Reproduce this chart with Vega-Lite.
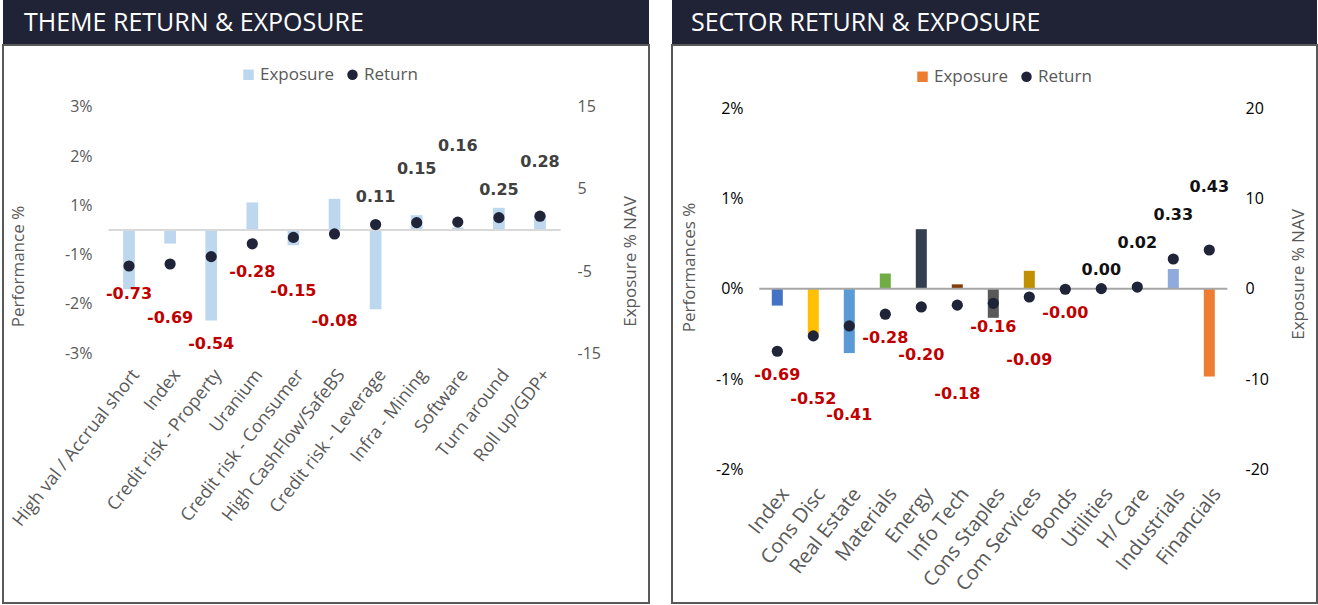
{
  "$schema": "https://vega.github.io/schema/vega-lite/v6.json",
  "padding": {"left": 2, "top": 0, "right": 0, "bottom": 0},
  "background": "white",
  "spacing": 21,
  "config": {
    "view": {"stroke": null},
    "axis": {"labelFont": "Open Sans", "titleFont": "Open Sans", "titleFontWeight": "normal", "grid": false, "domain": false, "ticks": false, "tickSize": 0},
    "legend": {"labelFont": "Open Sans", "labelFontSize": 17, "labelColor": "#595959", "padding": 0, "symbolStrokeWidth": 0, "symbolSize": 110, "labelOffset": 3, "columnPadding": 10}
  },
  "hconcat": [
    {
      "bounds": "flush",
      "spacing": 1,
      "vconcat": [
        {
          "width": 646, "height": 44,
          "data": {"values": [{}]},
          "mark": {"type": "rect", "color": "#1F2335"},
          "encoding": {},
          "title": {"text": "THEME RETURN & EXPOSURE", "anchor": "start", "frame": "group", "offset": -56, "dx": 21, "baseline": "alphabetic", "color": "#FFFFFF", "fontSize": 25, "font": "Open Sans", "fontWeight": "normal"}
        },
        {
          "width": 646, "height": 558,
          "view": {"stroke": "#595959", "strokeWidth": 2},
          "data": {"values": [
            {"theme": "High val / Accrual short", "exposure": -7.2, "ret": -0.73, "label": "-0.73"},
            {"theme": "Index", "exposure": -1.65, "ret": -0.69, "label": "-0.69"},
            {"theme": "Credit risk - Property", "exposure": -11.0, "ret": -0.54, "label": "-0.54"},
            {"theme": "Uranium", "exposure": 3.35, "ret": -0.28, "label": "-0.28"},
            {"theme": "Credit risk - Consumer", "exposure": -1.85, "ret": -0.15, "label": "-0.15"},
            {"theme": "High CashFlow/SafeBS", "exposure": 3.8, "ret": -0.08, "label": "-0.08"},
            {"theme": "Credit risk - Leverage", "exposure": -9.65, "ret": 0.11, "label": "0.11"},
            {"theme": "Infra - Mining", "exposure": 1.8, "ret": 0.15, "label": "0.15"},
            {"theme": "Software", "exposure": 0.3, "ret": 0.16, "label": "0.16"},
            {"theme": "Turn around", "exposure": 2.7, "ret": 0.25, "label": "0.25"},
            {"theme": "Roll up/GDP+", "exposure": 1.9, "ret": 0.28, "label": "0.28"}
          ]},
          "resolve": {"scale": {"y": "independent", "color": "independent", "shape": "independent"}},
          "layer": [
            {
              "mark": {"type": "bar"},
              "encoding": {
                "x": {"field": "theme", "type": "nominal", "sort": null,
                  "scale": {"range": [105.45, 557.55], "paddingInner": 0.715, "paddingOuter": 0.3575},
                  "axis": {"orient": "bottom", "offset": -241, "labelPadding": 4, "labelAngle": -52, "labelAlign": "right", "labelBaseline": "top", "labelFontSize": 18, "labelColor": "#595959", "labelLimit": 400, "title": null}},
                "y": {"field": "exposure", "type": "quantitative",
                  "scale": {"domain": [-45.38, 22.51], "nice": false, "zero": false},
                  "axis": {"orient": "right", "offset": -74, "values": [15, 5, -5, -15], "labelExpr": "'' + datum.value", "labelPadding": 2, "labelFontSize": 16, "labelColor": "#595959", "title": "Exposure % NAV", "titleAngle": 270, "titleX": 55, "titleY": 216, "titleAlign": "center", "titleBaseline": "middle", "titleFontSize": 17, "titleColor": "#595959"}},
                "color": {"datum": "Exposure", "scale": {"domain": ["Exposure"], "range": ["#BDD7EE"]}, "legend": null}
              }
            },
            {
              "layer": [
                {
                  "data": {"values": [{}]},
                  "mark": {"type": "rule", "color": "#D9D9D9", "strokeWidth": 2},
                  "encoding": {
                    "x": {"datum": "High val / Accrual short", "bandPosition": -1.255},
                    "x2": {"datum": "Roll up/GDP+", "bandPosition": 2.255},
                    "y": {"datum": 0}
                  }
                },
                {
                  "mark": {"type": "point", "filled": true, "size": 125, "opacity": 1},
                  "encoding": {
                    "x": {"field": "theme", "type": "nominal", "sort": null},
                    "y": {"field": "ret", "type": "quantitative",
                      "scale": {"domain": [-7.563, 3.751], "nice": false, "zero": false},
                      "axis": {"orient": "left", "offset": -93, "values": [2.5, 1.5, 0.5, -0.5, -1.5, -2.5], "labelExpr": "(datum.value < 0 ? '-' : '') + ceil(abs(datum.value)) + '%'", "labelPadding": 4, "labelFontSize": 16, "labelColor": "#595959", "title": "Performance %", "titleAngle": 270, "titleX": -78, "titleY": 221, "titleAlign": "center", "titleBaseline": "middle", "titleFontSize": 17, "titleColor": "#595959"}},
                    "color": {"datum": "Return", "scale": {"domain": ["Exposure", "Return"], "range": ["#BDD7EE", "#1F2438"]},
                      "legend": {"orient": "none", "legendX": 237, "legendY": 21, "direction": "horizontal", "title": null}},
                    "shape": {"datum": "Return", "scale": {"domain": ["Exposure", "Return"], "range": ["square", "circle"]},
                      "legend": {"orient": "none", "legendX": 237, "legendY": 21, "direction": "horizontal", "title": null}}
                  }
                },
                {
                  "transform": [{"filter": {"field": "theme", "oneOf": ["High val / Accrual short", "Uranium"]}}],
                  "mark": {"type": "text", "dy": 28, "color": "#C00000", "font": "DejaVu Sans", "fontWeight": "bold", "fontSize": 16},
                  "encoding": {"x": {"field": "theme", "type": "nominal", "sort": null}, "y": {"field": "ret", "type": "quantitative"}, "text": {"field": "label"}}
                },
                {
                  "transform": [{"filter": {"field": "theme", "oneOf": ["Index", "Credit risk - Consumer"]}}],
                  "mark": {"type": "text", "dy": 54, "color": "#C00000", "font": "DejaVu Sans", "fontWeight": "bold", "fontSize": 16},
                  "encoding": {"x": {"field": "theme", "type": "nominal", "sort": null}, "y": {"field": "ret", "type": "quantitative"}, "text": {"field": "label"}}
                },
                {
                  "transform": [{"filter": {"field": "theme", "oneOf": ["Credit risk - Property", "High CashFlow/SafeBS"]}}],
                  "mark": {"type": "text", "dy": 87, "color": "#C00000", "font": "DejaVu Sans", "fontWeight": "bold", "fontSize": 16},
                  "encoding": {"x": {"field": "theme", "type": "nominal", "sort": null}, "y": {"field": "ret", "type": "quantitative"}, "text": {"field": "label"}}
                },
                {
                  "transform": [{"filter": {"field": "theme", "oneOf": ["Credit risk - Leverage", "Turn around"]}}],
                  "mark": {"type": "text", "dy": -28, "color": "#404040", "font": "DejaVu Sans", "fontWeight": "bold", "fontSize": 16},
                  "encoding": {"x": {"field": "theme", "type": "nominal", "sort": null}, "y": {"field": "ret", "type": "quantitative"}, "text": {"field": "label"}}
                },
                {
                  "transform": [{"filter": {"field": "theme", "oneOf": ["Infra - Mining", "Roll up/GDP+"]}}],
                  "mark": {"type": "text", "dy": -54, "color": "#404040", "font": "DejaVu Sans", "fontWeight": "bold", "fontSize": 16},
                  "encoding": {"x": {"field": "theme", "type": "nominal", "sort": null}, "y": {"field": "ret", "type": "quantitative"}, "text": {"field": "label"}}
                },
                {
                  "transform": [{"filter": {"field": "theme", "oneOf": ["Software"]}}],
                  "mark": {"type": "text", "dy": -76, "color": "#404040", "font": "DejaVu Sans", "fontWeight": "bold", "fontSize": 16},
                  "encoding": {"x": {"field": "theme", "type": "nominal", "sort": null}, "y": {"field": "ret", "type": "quantitative"}, "text": {"field": "label"}}
                }
              ]
            }
          ]
        }
      ]
    },
    {
      "bounds": "flush",
      "spacing": 1,
      "vconcat": [
        {
          "width": 645, "height": 44,
          "data": {"values": [{}]},
          "mark": {"type": "rect", "color": "#1F2335"},
          "encoding": {},
          "title": {"text": "SECTOR RETURN & EXPOSURE", "anchor": "start", "frame": "group", "offset": -56, "dx": 19, "baseline": "alphabetic", "color": "#FFFFFF", "fontSize": 25, "font": "Open Sans", "fontWeight": "normal"}
        },
        {
          "width": 645, "height": 558,
          "view": {"stroke": "#595959", "strokeWidth": 2},
          "data": {"values": [
            {"sector": "Index", "exposure": -1.85, "ret": -0.69, "label": "-0.69"},
            {"sector": "Cons Disc", "exposure": -5.0, "ret": -0.52, "label": "-0.52"},
            {"sector": "Real Estate", "exposure": -7.1, "ret": -0.41, "label": "-0.41"},
            {"sector": "Materials", "exposure": 1.7, "ret": -0.28, "label": "-0.28"},
            {"sector": "Energy", "exposure": 6.6, "ret": -0.20, "label": "-0.20"},
            {"sector": "Info Tech", "exposure": 0.5, "ret": -0.18, "label": "-0.18"},
            {"sector": "Cons Staples", "exposure": -3.2, "ret": -0.16, "label": "-0.16"},
            {"sector": "Com Services", "exposure": 2.0, "ret": -0.09, "label": "-0.09"},
            {"sector": "Bonds", "exposure": 0, "ret": -0.004, "label": "-0.00"},
            {"sector": "Utilities", "exposure": 0, "ret": 0.003, "label": "0.00"},
            {"sector": "H/ Care", "exposure": 0, "ret": 0.02, "label": "0.02"},
            {"sector": "Industrials", "exposure": 2.2, "ret": 0.33, "label": "0.33"},
            {"sector": "Financials", "exposure": -9.7, "ret": 0.43, "label": "0.43"}
          ]},
          "resolve": {"scale": {"y": "independent", "color": "independent", "shape": "independent"}},
          "layer": [
            {
              "mark": {"type": "bar"},
              "encoding": {
                "x": {"field": "sector", "type": "nominal", "sort": null,
                  "scale": {"range": [87.3, 555.3], "paddingInner": 0.694, "paddingOuter": 0.347},
                  "axis": {"orient": "bottom", "offset": -123, "labelPadding": 4, "labelAngle": -52, "labelAlign": "right", "labelBaseline": "top", "labelFontSize": 20, "labelColor": "#595959", "labelLimit": 400, "title": null}},
                "y": {"field": "exposure", "type": "quantitative",
                  "scale": {"domain": [-34.74, 26.97], "nice": false, "zero": false},
                  "axis": {"orient": "right", "offset": -74, "values": [20, 10, 0, -10, -20], "labelExpr": "'' + datum.value", "labelPadding": 2, "labelFontSize": 16, "labelColor": "#000000", "title": "Exposure % NAV", "titleAngle": 270, "titleX": 55, "titleY": 229, "titleAlign": "center", "titleBaseline": "middle", "titleFontSize": 17, "titleColor": "#595959"}},
                "color": {"field": "sector", "type": "nominal", "legend": null,
                  "scale": {"domain": ["Index", "Cons Disc", "Real Estate", "Materials", "Energy", "Info Tech", "Cons Staples", "Com Services", "Bonds", "Utilities", "H/ Care", "Industrials", "Financials"],
                    "range": ["#4472C4", "#FFC000", "#5B9BD5", "#70AD47", "#333F50", "#843C0C", "#595959", "#BF9000", "#255E91", "#9E480E", "#636363", "#8FAADC", "#ED7D31"]}}
              }
            },
            {
              "layer": [
                {
                  "data": {"values": [{}]},
                  "mark": {"type": "rule", "color": "#A6A6A6", "strokeWidth": 2},
                  "encoding": {
                    "x": {"datum": "Index", "bandPosition": -1.133},
                    "x2": {"datum": "Financials", "bandPosition": 2.133},
                    "y": {"datum": 0}
                  }
                },
                {
                  "mark": {"type": "point", "filled": true, "size": 125, "opacity": 1},
                  "encoding": {
                    "x": {"field": "sector", "type": "nominal", "sort": null},
                    "y": {"field": "ret", "type": "quantitative",
                      "scale": {"domain": [-3.474, 2.697], "nice": false, "zero": false},
                      "axis": {"orient": "left", "offset": -75, "values": [2, 1, 0, -1, -2], "labelExpr": "datum.value + '%'", "labelPadding": 4, "labelFontSize": 16, "labelColor": "#000000", "title": "Performances %", "titleAngle": 270, "titleX": -58, "titleY": 222, "titleAlign": "center", "titleBaseline": "middle", "titleFontSize": 17, "titleColor": "#595959"}},
                    "color": {"datum": "Return", "scale": {"domain": ["Exposure", "Return"], "range": ["#ED7D31", "#1F2438"]},
                      "legend": {"orient": "none", "legendX": 242, "legendY": 23, "direction": "horizontal", "title": null}},
                    "shape": {"datum": "Return", "scale": {"domain": ["Exposure", "Return"], "range": ["square", "circle"]},
                      "legend": {"orient": "none", "legendX": 242, "legendY": 23, "direction": "horizontal", "title": null}}
                  }
                },
                {
                  "transform": [{"filter": {"field": "sector", "oneOf": ["Index", "Materials", "Cons Staples", "Bonds"]}}],
                  "mark": {"type": "text", "dy": 24, "color": "#C00000", "font": "DejaVu Sans", "fontWeight": "bold", "fontSize": 16},
                  "encoding": {"x": {"field": "sector", "type": "nominal", "sort": null}, "y": {"field": "ret", "type": "quantitative"}, "text": {"field": "label"}}
                },
                {
                  "transform": [{"filter": {"field": "sector", "oneOf": ["Energy"]}}],
                  "mark": {"type": "text", "dy": 48, "color": "#C00000", "font": "DejaVu Sans", "fontWeight": "bold", "fontSize": 16},
                  "encoding": {"x": {"field": "sector", "type": "nominal", "sort": null}, "y": {"field": "ret", "type": "quantitative"}, "text": {"field": "label"}}
                },
                {
                  "transform": [{"filter": {"field": "sector", "oneOf": ["Cons Disc", "Com Services"]}}],
                  "mark": {"type": "text", "dy": 63, "color": "#C00000", "font": "DejaVu Sans", "fontWeight": "bold", "fontSize": 16},
                  "encoding": {"x": {"field": "sector", "type": "nominal", "sort": null}, "y": {"field": "ret", "type": "quantitative"}, "text": {"field": "label"}}
                },
                {
                  "transform": [{"filter": {"field": "sector", "oneOf": ["Real Estate", "Info Tech"]}}],
                  "mark": {"type": "text", "dy": 89, "color": "#C00000", "font": "DejaVu Sans", "fontWeight": "bold", "fontSize": 16},
                  "encoding": {"x": {"field": "sector", "type": "nominal", "sort": null}, "y": {"field": "ret", "type": "quantitative"}, "text": {"field": "label"}}
                },
                {
                  "transform": [{"filter": {"field": "sector", "oneOf": ["Utilities"]}}],
                  "mark": {"type": "text", "dy": -19, "color": "#111111", "font": "DejaVu Sans", "fontWeight": "bold", "fontSize": 16},
                  "encoding": {"x": {"field": "sector", "type": "nominal", "sort": null}, "y": {"field": "ret", "type": "quantitative"}, "text": {"field": "label"}}
                },
                {
                  "transform": [{"filter": {"field": "sector", "oneOf": ["H/ Care", "Industrials"]}}],
                  "mark": {"type": "text", "dy": -44, "color": "#111111", "font": "DejaVu Sans", "fontWeight": "bold", "fontSize": 16},
                  "encoding": {"x": {"field": "sector", "type": "nominal", "sort": null}, "y": {"field": "ret", "type": "quantitative"}, "text": {"field": "label"}}
                },
                {
                  "transform": [{"filter": {"field": "sector", "oneOf": ["Financials"]}}],
                  "mark": {"type": "text", "dy": -63, "color": "#111111", "font": "DejaVu Sans", "fontWeight": "bold", "fontSize": 16},
                  "encoding": {"x": {"field": "sector", "type": "nominal", "sort": null}, "y": {"field": "ret", "type": "quantitative"}, "text": {"field": "label"}}
                }
              ]
            }
          ]
        }
      ]
    }
  ]
}
